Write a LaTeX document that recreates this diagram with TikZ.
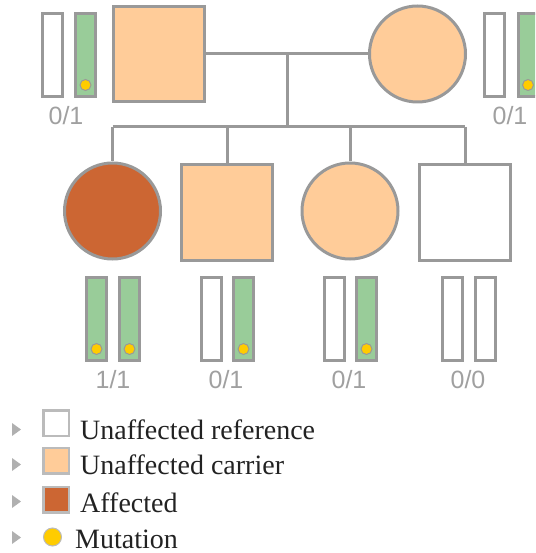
\documentclass[tikz,border=0pt]{standalone}
\usepackage{fontspec}
\newfontfamily\labfont{Liberation Sans}
\newfontfamily\legfont{Liberation Serif}
\definecolor{lc}{HTML}{999999}
\definecolor{labc}{HTML}{A0A0A0}
\definecolor{carrier}{HTML}{FFCC99}
\definecolor{affected}{HTML}{CC6633}
\definecolor{chromg}{HTML}{99CC99}
\definecolor{mut}{HTML}{FFCC00}
\definecolor{legtri}{HTML}{B0B0B0}
\definecolor{legbox}{HTML}{BBBBBB}
\definecolor{legtxt}{HTML}{222222}
\begin{document}
\begin{tikzpicture}[x=1pt,y=-1pt,
  conn/.style={draw=lc, line width=3},
  male/.style={rectangle, draw=lc, line width=3, minimum width=91, minimum height=95, inner sep=0},
  female/.style={circle, draw=lc, line width=3, minimum size=96, inner sep=0},
  chrom/.style={rectangle, draw=lc, line width=3, minimum width=20, minimum height=83, inner sep=0, fill=white},
  chromm/.style={chrom, fill=chromg},
  mutdot/.style={circle, fill=mut, draw=lc, line width=1, minimum size=11, inner sep=0},
  geno/.style={font=\labfont\fontsize{25}{30}\selectfont, text=labc, inner sep=0},
  legtriangle/.style={fill=legtri, draw=none},
  legsq/.style={rectangle, draw=legbox, line width=2.5, minimum size=25.5, inner sep=0},
  legtext/.style={font=\legfont\fontsize{28}{34}\selectfont, text=legtxt, anchor=base west, inner sep=0}
]
\useasboundingbox (0,0) rectangle (535,553);
\clip (0,0) rectangle (535,553);

% parents
\node[male, fill=carrier] (fa) at (159,54) {};
\node[female, fill=carrier] (mo) at (417.5,54) {};

% children
\node[female, fill=affected] (c1) at (112.5,211) {};
\node[male, fill=carrier] (c2) at (227,212.5) {};
\node[female, fill=carrier] (c3) at (350,211) {};
\node[male, fill=white] (c4) at (465,212.5) {};

% connectors
\coordinate (mm) at (287,54);
\coordinate (ss) at (287,127);
\coordinate (sl) at (112.5,127);
\coordinate (sr) at (465,127);
\draw[conn] (fa.east) -- (mo.west);
\draw[conn] (mm) -- (ss);
\draw[conn] (sl) -- (sr);
\draw[conn] (sl) -- (c1.north);
\draw[conn] (c2.north |- ss) -- (c2.north);
\draw[conn] (c3.north |- ss) -- (c3.north);
\draw[conn] (sr) -- (c4.north);

% father chromosomes
\node[chrom] (fa1) at (52,55) {};
\node[chromm] (fa2) at (85.5,55) {};
\node[mutdot] (fad) at (85.5,85) {};
\node[geno] (fag) at (66,116) {0/1};

% mother chromosomes
\node[chrom] (mo1) at (494.5,55) {};
\node[chromm] (mo2) at (528,55) {};
\node[mutdot] (mod) at (528,85) {};
\node[geno] (mog) at (510,116) {0/1};

% child 1
\node[chromm] (c1a) at (96.5,319) {};
\node[chromm] (c1b) at (129.5,319) {};
\node[mutdot] (c1ad) at (96.5,349) {};
\node[mutdot] (c1bd) at (129.5,349) {};
\node[geno] (c1g) at (113,380) {1/1};

% child 2
\node[chrom] (c2a) at (211,319) {};
\node[chromm] (c2b) at (243.5,319) {};
\node[mutdot] (c2bd) at (243.5,349) {};
\node[geno] (c2g) at (226,380) {0/1};

% child 3
\node[chrom] (c3a) at (334,319) {};
\node[chromm] (c3b) at (366.5,319) {};
\node[mutdot] (c3bd) at (366.5,349) {};
\node[geno] (c3g) at (349,380) {0/1};

% child 4
\node[chrom] (c4a) at (452.5,319) {};
\node[chrom] (c4b) at (485.5,319) {};
\node[geno] (c4g) at (468,380) {0/0};

% legend
\fill[legtriangle] (12,423) -- (21,429.5) -- (12,436) -- cycle;
\fill[legtriangle] (12,458) -- (21,464.5) -- (12,471) -- cycle;
\fill[legtriangle] (12,495) -- (21,501.5) -- (12,508) -- cycle;
\fill[legtriangle] (12,531) -- (21,537.5) -- (12,544) -- cycle;
\node[legsq, fill=white] (l1) at (56,423) {};
\node[legsq, fill=carrier] (l2) at (56,460.5) {};
\node[legsq, fill=affected] (l3) at (56,499.5) {};
\node[circle, fill=mut, draw=legbox, line width=1, minimum size=18, inner sep=0] (l4) at (52.5,537) {};
\node[legtext] (t1) at (80,439) {Unaffected reference};
\node[legtext] (t2) at (80,474) {Unaffected carrier};
\node[legtext] (t3) at (80,512) {Affected};
\node[legtext] (t4) at (75,548) {Mutation};
\end{tikzpicture}
\end{document}
